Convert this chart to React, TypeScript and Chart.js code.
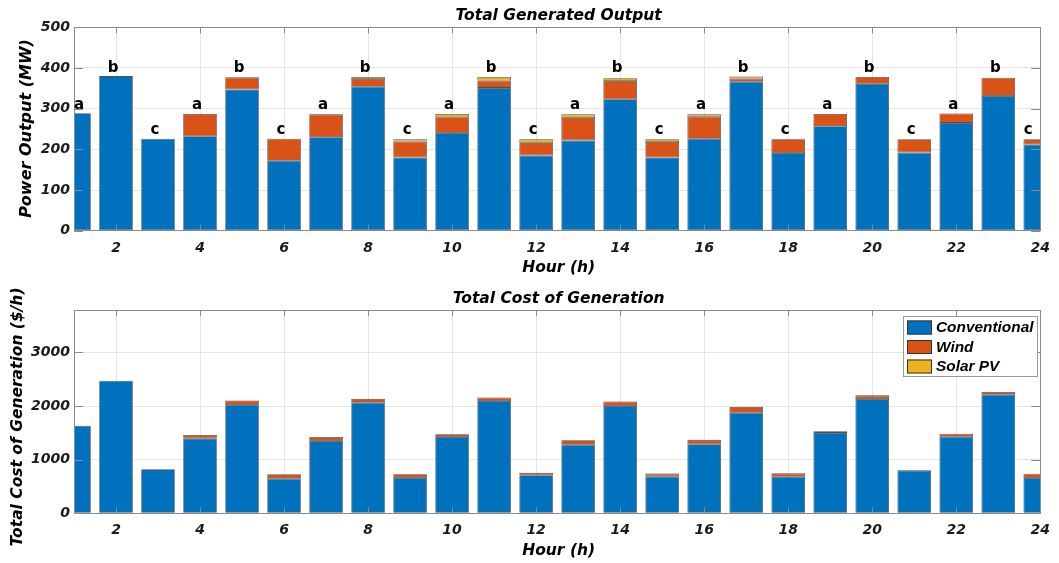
import React, { useEffect, useRef } from "react";
import { Chart, registerables } from "chart.js";

Chart.register(...registerables);

// ---------- data ----------
const hours = [1, 2, 3, 4, 5, 6, 7, 8, 9, 10, 11, 12, 13, 14, 15, 16, 17, 18, 19, 20, 21, 22, 23, 24];
const xTickValues = [2, 4, 6, 8, 10, 12, 14, 16, 18, 20, 22, 24];
const outputTickValues = [0, 100, 200, 300, 400, 500];
const costTickValues = [0, 1000, 2000, 3000];
const seriesNames = ["Conventional", "Wind", "Solar PV"];
const groupLetters = ["a", "b", "c", "a", "b", "c", "a", "b", "c", "a", "b", "c", "a", "b", "c", "a", "b", "c", "a", "b", "c", "a", "b", "c"];

const outputConventional = [289, 380, 226, 232, 347, 172, 230, 354, 180, 240, 351, 185, 222, 323, 180, 226, 366, 191, 257, 361, 192, 265, 331, 212];
const outputWind = [0, 0, 0, 55, 30, 54, 56, 19, 39, 39, 18, 31, 55, 45, 38, 54, 8, 34, 30, 17, 33, 23, 45, 13];
const outputSolar = [0, 0, 0, 0, 0, 0, 1, 5, 6, 8, 9, 9, 9, 7, 7, 6, 5, 1, 0, 0, 0, 0, 0, 0];

const costConventional = [1632, 2471, 820, 1397, 2018, 645, 1347, 2061, 658, 1422, 2093, 708, 1279, 2000, 689, 1286, 1875, 682, 1496, 2130, 801, 1428, 2210, 658];
const costWind = [0, 0, 0, 62, 87, 82, 75, 72, 70, 53, 65, 45, 84, 84, 52, 83, 109, 63, 32, 69, 6, 56, 50, 80];
const costSolar = [0, 0, 0, 0, 0, 0, 0, 3, 4, 3, 3, 4, 3, 3, 4, 3, 3, 0, 0, 0, 0, 0, 0, 0];

// ---------- styles ----------
const COLORS = ["#0072BD", "#D95319", "#EDB120"];
const GRID = "#e6e6e6";
const AXIS = "#8a8a8a";
const TEXT = "#1a1a1a";
const FAMILY = "'DejaVu Sans'";
const W = 1059;

type PanelCfg = {
  series: number[][];
  yMax: number;
  yTicks: number[];
  title: string;
  yTitle: string;
  yTitleX: number;
  yTitleY: number;
  yTitleSize: number;
  padTop: number;
  xAxisHeight: number;
  letters: boolean;
  legend: boolean;
};

function makeDecor(cfg: PanelCfg) {
  return {
    id: "decor",
    afterDatasetsDraw(chart: any) {
      const { ctx, chartArea: a, scales } = chart;
      ctx.save();
      ctx.strokeStyle = AXIS;
      ctx.lineWidth = 1;
      ctx.beginPath();
      for (const v of xTickValues) {
        const x = Math.round(scales.x.getPixelForValue(v)) + 0.5;
        ctx.moveTo(x, a.bottom);
        ctx.lineTo(x, a.bottom - 6);
        ctx.moveTo(x, a.top);
        ctx.lineTo(x, a.top + 6);
      }
      for (const v of cfg.yTicks) {
        const y = Math.round(scales.y.getPixelForValue(v)) + 0.5;
        ctx.moveTo(a.left, y);
        ctx.lineTo(a.left + 9, y);
        ctx.moveTo(a.right, y);
        ctx.lineTo(a.right - 9, y);
      }
      ctx.stroke();
      ctx.strokeRect(Math.round(a.left) + 0.5, Math.round(a.top) + 0.5, Math.round(a.right - a.left), Math.round(a.bottom - a.top));
      ctx.restore();
    },
    afterDraw(chart: any) {
      const { ctx, chartArea: a, scales } = chart;
      const cx = (a.left + a.right) / 2;
      ctx.save();
      ctx.fillStyle = "#000";
      ctx.textAlign = "center";
      ctx.textBaseline = "middle";
      // title
      ctx.font = `italic bold 15.5px ${FAMILY}`;
      ctx.fillText(cfg.title, cx + 1.5, a.top - 11);
      // x title
      ctx.font = `italic bold 15.5px ${FAMILY}`;
      ctx.fillText("Hour (h)", cx + 1.5, a.bottom + 37.5);
      // y title
      ctx.save();
      ctx.translate(cfg.yTitleX, cfg.yTitleY);
      ctx.rotate(-Math.PI / 2);
      ctx.font = `italic bold ${cfg.yTitleSize}px ${FAMILY}`;
      ctx.fillText(cfg.yTitle, 0, 0);
      ctx.restore();

      if (cfg.letters) {
        const groupMax: Record<string, number> = {};
        hours.forEach((_, i) => {
          const total = cfg.series.reduce((s, arr) => s + arr[i], 0);
          const g = groupLetters[i];
          groupMax[g] = Math.max(groupMax[g] ?? 0, total);
        });
        ctx.font = `bold 15px ${FAMILY}`;
        ctx.textBaseline = "alphabetic";
        ctx.fillStyle = "#000";
        hours.forEach((h, i) => {
          const g = groupLetters[i];
          let x = scales.x.getPixelForValue(h) - 3;
          x = Math.min(Math.max(x, a.left + 5), a.right - 12);
          const y = scales.y.getPixelForValue(groupMax[g]) - 4.5;
          ctx.fillText(g, x, y);
        });
      }

      if (cfg.legend) {
        const lx = 903.5, ly = a.top + 6.5, lw = 134, lh = 60;
        ctx.fillStyle = "#fff";
        ctx.fillRect(lx, ly, lw, lh);
        ctx.strokeStyle = "#9a9a9a";
        ctx.lineWidth = 1;
        ctx.strokeRect(lx, ly, lw, lh);
        ctx.textAlign = "left";
        ctx.textBaseline = "middle";
        ctx.font = "italic bold 15.4px 'Liberation Sans'";
        const rows = [11, 30.5, 50];
        seriesNames.forEach((name, k) => {
          const yc = ly + rows[k];
          ctx.fillStyle = COLORS[k];
          ctx.fillRect(907, yc - 7, 25, 14);
          ctx.strokeStyle = "#333";
          ctx.strokeRect(907.5, yc - 6.5, 24, 13);
          ctx.fillStyle = "#000";
          ctx.fillText(name, 936, yc + 0.5);
        });
      }
      ctx.restore();
    },
  };
}

function Panel({ cfg, height }: { cfg: PanelCfg; height: number }) {
  const ref = useRef<HTMLCanvasElement | null>(null);
  useEffect(() => {
    if (!ref.current) return;
    const tickFont = { family: FAMILY, size: 14, style: "italic" as const, weight: "bold" as const };
    const chart = new Chart(ref.current, {
      type: "bar",
      data: {
        datasets: cfg.series.map((arr, k) => ({
          label: seriesNames[k],
          data: hours.map((h, i) => ({ x: h, y: arr[i] })),
          backgroundColor: COLORS[k],
          borderColor: "rgba(20,20,20,0.75)",
          borderWidth: 0.8,
          borderSkipped: false,
          categoryPercentage: 1,
          barPercentage: 0.8,
          clip: 0,
        })) as any,
      },
      options: {
        animation: false,
        responsive: false,
        layout: { padding: { left: 0, right: 16, top: cfg.padTop, bottom: 0 } },
        plugins: { legend: { display: false }, tooltip: { enabled: false }, title: { display: false } },
        scales: {
          x: {
            type: "linear",
            min: 1,
            max: 24,
            stacked: true,
            offset: false,
            grid: { color: GRID, drawTicks: false, offset: false },
            border: { display: false },
            ticks: {
              font: tickFont,
              color: TEXT,
              padding: 9,
              maxRotation: 0,
              autoSkip: false,
              callback: (v: any) => String(v),
            },
            afterBuildTicks: (s: any) => {
              s.ticks = xTickValues.map((v) => ({ value: v }));
            },
            afterFit: (s: any) => {
              s.height = cfg.xAxisHeight;
            },
          },
          y: {
            type: "linear",
            min: 0,
            max: cfg.yMax,
            stacked: true,
            grid: { color: GRID, drawTicks: false },
            border: { display: false },
            ticks: { font: tickFont, color: TEXT, padding: 4, callback: (v: any) => String(v) },
            afterBuildTicks: (s: any) => {
              s.ticks = cfg.yTicks.map((v) => ({ value: v }));
            },
            afterFit: (s: any) => {
              s.width = 74;
            },
          },
        },
      } as any,
      plugins: [makeDecor(cfg)],
    });
    return () => chart.destroy();
  }, []);
  return <canvas ref={ref} width={W} height={height} style={{ display: "block", width: W, height }} />;
}

export default function App() {
  const top: PanelCfg = {
    series: [outputConventional, outputWind, outputSolar],
    yMax: 500,
    yTicks: outputTickValues,
    title: "Total Generated Output",
    yTitle: "Power Output (MW)",
    yTitleX: 27,
    yTitleY: 128.5,
    yTitleSize: 16,
    padTop: 27.3,
    xAxisHeight: 50.3,
    letters: true,
    legend: false,
  };
  const bottom: PanelCfg = {
    series: [costConventional, costWind, costSolar],
    yMax: 3790,
    yTicks: costTickValues,
    title: "Total Cost of Generation",
    yTitle: "Total Cost of Generation ($/h)",
    yTitleX: 18,
    yTitleY: 136,
    yTitleSize: 15.5,
    padTop: 29,
    xAxisHeight: 49.7,
    letters: false,
    legend: true,
  };
  return (
    <div style={{ position: "absolute", left: 0, top: 0, width: W, height: 563, background: "#fff" }}>
      <Panel cfg={top} height={281} />
      <Panel cfg={bottom} height={282} />
    </div>
  );
}
